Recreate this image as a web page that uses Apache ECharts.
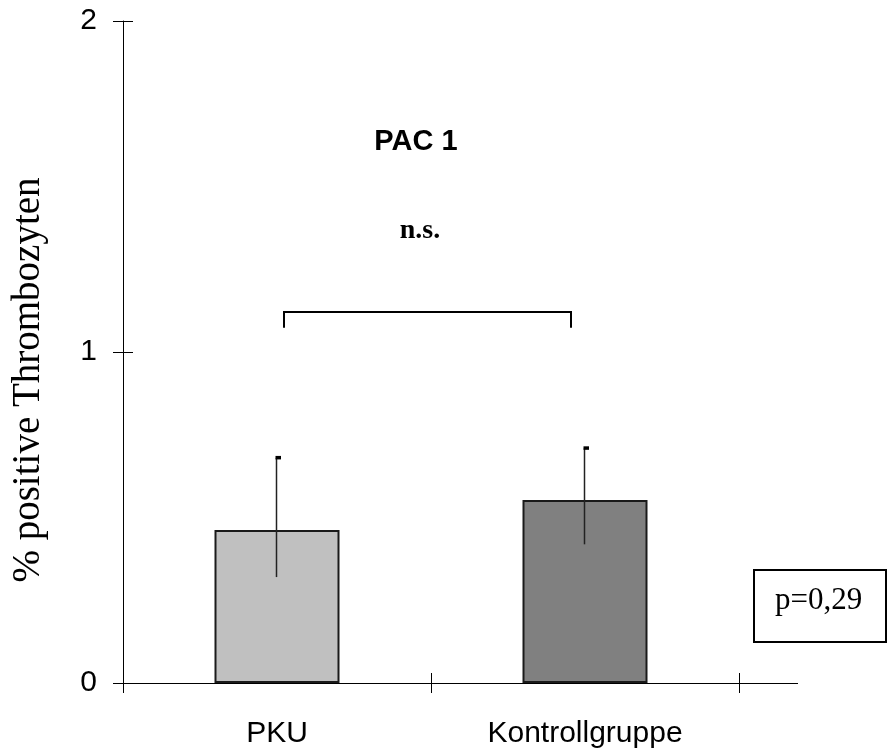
<!DOCTYPE html>
<html>
<head>
<meta charset="utf-8">
<script src="https://cdn.jsdelivr.net/npm/echarts@6/dist/echarts.min.js"></script>
<style>
  html, body { margin: 0; padding: 0; background: #fff; }
  #chart { width: 888px; height: 752px; }
</style>
</head>
<body>
<div id="chart"></div>
<script>
// Groups and mean values (% positive platelets, PAC-1)
const categories = ['PKU', 'Kontrollgruppe'];
const means = [0.462, 0.553];
const errLow = [0.320, 0.419];
const errHigh = [0.680, 0.709];
const barColors = ['#c0c0c0', '#808080'];
const yTicks = [0, 1, 2];
// Significance bracket level and leg bottom
const bracketTop = 1.121;
const bracketLeg = 1.073;

const sans = '"Liberation Sans", Arial, sans-serif';
const serif = '"Liberation Serif", "Times New Roman", serif';

const chart = echarts.init(document.getElementById('chart'), null, { renderer: 'canvas' });

const option = {
  animation: false,
  backgroundColor: '#ffffff',
  grid: { left: 123, right: 149, top: 21, bottom: 69, containLabel: false },
  xAxis: [
    {
      type: 'category',
      data: categories,
      boundaryGap: true,
      axisLine: { show: true, lineStyle: { color: '#000', width: 1 } },
      axisTick: { show: true, length: 10, inside: false, lineStyle: { color: '#000', width: 1 } },
      axisLabel: { show: true, margin: 36, color: '#000', fontFamily: sans, fontSize: 30 },
      splitLine: { show: false }
    },
    {
      type: 'category',
      data: categories,
      position: 'bottom',
      boundaryGap: true,
      axisLine: { show: false },
      axisTick: { show: true, length: 10, inside: true, lineStyle: { color: '#000', width: 1 } },
      axisLabel: { show: false },
      splitLine: { show: false }
    }
  ],
  yAxis: [
    {
      type: 'value',
      min: yTicks[0],
      max: yTicks[yTicks.length - 1],
      interval: 1,
      axisLine: { show: true, lineStyle: { color: '#000', width: 1 } },
      axisTick: { show: true, length: 10, inside: false, lineStyle: { color: '#000', width: 1 } },
      axisLabel: { show: true, margin: 26, color: '#000', fontFamily: sans, fontSize: 30 },
      splitLine: { show: false }
    },
    {
      type: 'value',
      position: 'left',
      offset: 0,
      min: yTicks[0],
      max: yTicks[yTicks.length - 1],
      interval: 1,
      axisLine: { show: false },
      axisTick: { show: true, length: 10, inside: true, lineStyle: { color: '#000', width: 1 } },
      axisLabel: { show: false },
      splitLine: { show: false }
    }
  ],
  series: [
    {
      type: 'bar',
      data: means.map((v, i) => ({
        value: v,
        itemStyle: { color: barColors[i], borderColor: '#1a1a1a', borderWidth: 2 }
      })),
      barWidth: 125,
      z: 2
    },
    {
      // error bars with a small cap at the upper end
      type: 'custom',
      z: 3,
      data: categories.map((c, i) => [i, errLow[i], errHigh[i]]),
      renderItem: function (params, api) {
        const lo = api.coord([api.value(0), api.value(1)]);
        const hi = api.coord([api.value(0), api.value(2)]);
        const x = Math.round(lo[0]) - 0.5;
        return {
          type: 'group',
          children: [
            {
              type: 'line',
              shape: { x1: x, y1: lo[1], x2: x, y2: hi[1] },
              style: { stroke: '#222', lineWidth: 1.5 }
            },
            {
              type: 'rect',
              shape: { x: x - 1, y: hi[1] - 2, width: 5.5, height: 3.5 },
              style: { fill: '#000' }
            }
          ]
        };
      }
    },
    {
      // significance bracket spanning both groups
      type: 'custom',
      z: 3,
      data: [[0, 1, bracketTop, bracketLeg]],
      renderItem: function (params, api) {
        const a = api.coord([api.value(0), api.value(2)]);
        const b = api.coord([api.value(1), api.value(2)]);
        const legY = api.coord([api.value(0), api.value(3)])[1];
        const xa = a[0] + 7;
        const xb = b[0] - 14;
        return {
          type: 'polyline',
          shape: { points: [[xa, legY], [xa, a[1]], [xb, a[1]], [xb, legY]] },
          style: { stroke: '#000', lineWidth: 2, fill: null }
        };
      }
    }
  ],
  graphic: [
    {
      type: 'line',
      shape: { x1: 739, y1: 683.5, x2: 798, y2: 683.5 },
      style: { stroke: '#000', lineWidth: 1 }
    },
    {
      type: 'text',
      x: 29, y: 380,
      rotation: Math.PI / 2,
      style: {
        text: '% positive Thrombozyten',
        fontFamily: serif, fontSize: 39, fill: '#000',
        align: 'center', verticalAlign: 'middle'
      }
    },
    {
      type: 'text',
      x: 416, y: 142,
      style: {
        text: 'PAC 1',
        fontFamily: sans, fontSize: 29, fontWeight: 'bold', fill: '#000',
        align: 'center', verticalAlign: 'middle'
      }
    },
    {
      type: 'text',
      x: 420, y: 231,
      style: {
        text: 'n.s.',
        fontFamily: serif, fontSize: 28, fontWeight: 'bold', fill: '#000',
        align: 'center', verticalAlign: 'middle'
      }
    },
    {
      type: 'rect',
      shape: { x: 754, y: 570, width: 132, height: 72 },
      style: { fill: '#fff', stroke: '#000', lineWidth: 2 }
    },
    {
      type: 'text',
      x: 775, y: 601,
      style: {
        text: 'p=0,29',
        fontFamily: serif, fontSize: 31, fill: '#000',
        align: 'left', verticalAlign: 'middle'
      }
    }
  ]
};

chart.setOption(option);
</script>
</body>
</html>
